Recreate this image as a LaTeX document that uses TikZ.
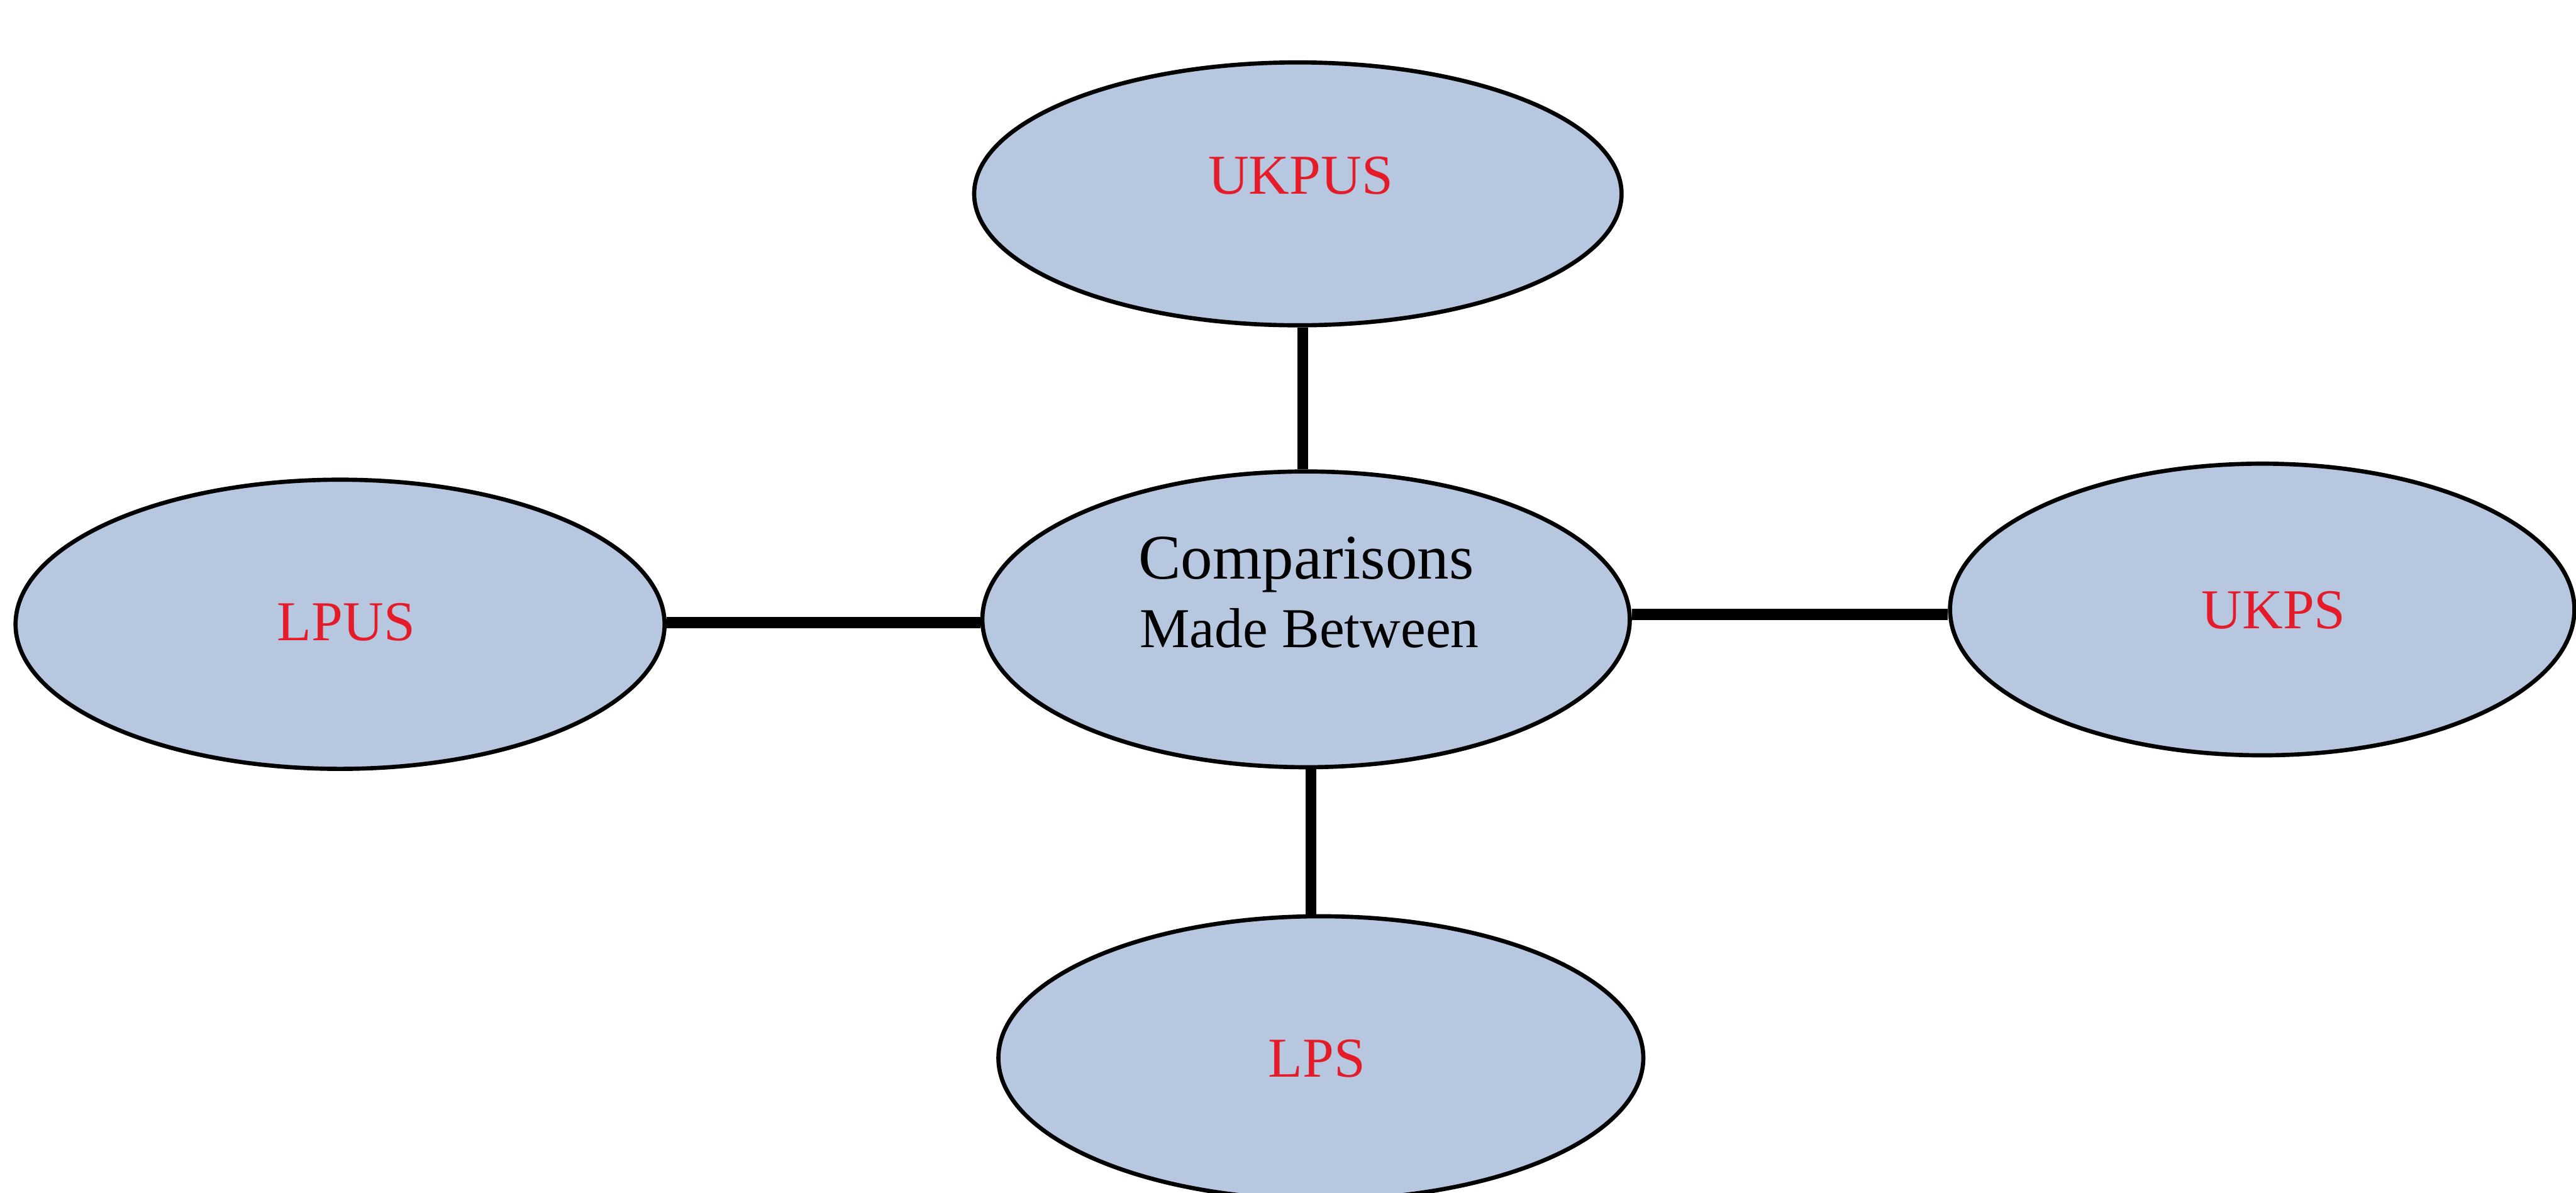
\documentclass[tikz,border=0pt]{standalone}
\usepackage{fontspec}
\setmainfont{Liberation Serif}
\usetikzlibrary{shapes.geometric}
\definecolor{ellfill}{RGB}{184,199,224}
\definecolor{labred}{RGB}{228,28,42}
\begin{document}
\begin{tikzpicture}[x=0.04cm,y=-0.04cm,
  oval/.style={ellipse, draw=black, line width=2.9pt, fill=ellfill, inner sep=0pt},
  lab/.style={text=labred, anchor=base, inner sep=0pt, font=\fontsize{39}{42}\selectfont},
  link/.style={line width=7.5pt, black}]
\useasboundingbox (0,0) rectangle (1568,726);
\fill[white] (0,0) rectangle (1568,726);
\node[oval, minimum width=15.76cm, minimum height=7.2cm] (c) at (795,377) {};
\node[oval, minimum width=15.76cm, minimum height=6.4cm] (u) at (790,118) {};
\node[oval, minimum width=15.8cm, minimum height=7.04cm] (l) at (207,380) {};
\node[oval, minimum width=15.2cm, minimum height=7.1cm] (r) at (1377,371) {};
\node[oval, minimum width=15.7cm, minimum height=6.9cm] (d) at (804,644) {};
\node[anchor=base, inner sep=0pt, font=\fontsize{44}{46}\selectfont] (t1) at (795,352.5) {Comparisons};
\node[anchor=base, inner sep=0pt, font=\fontsize{39}{42}\selectfont] (t2) at (797,394) {Made Between};
\node[lab] (tu) at (791.7,118.2) {UKPUS};
\node[lab] (tl) at (210.7,389.7) {LPUS};
\node[lab] (tr) at (1384,382.7) {UKPS};
\node[lab] (td) at (801.6,655.5) {LPS};
\coordinate (vu) at (793,0);
\coordinate (vd) at (798,0);
\coordinate (hl) at (0,379);
\coordinate (hr) at (0,374);
\draw[link] (u.south -| vu) -- (c.north -| vu);
\draw[link] (c.south -| vd) -- (d.north -| vd);
\draw[link] (l.east |- hl) -- (c.west |- hl);
\draw[link] (c.east |- hr) -- (r.west |- hr);
\end{tikzpicture}
\end{document}
